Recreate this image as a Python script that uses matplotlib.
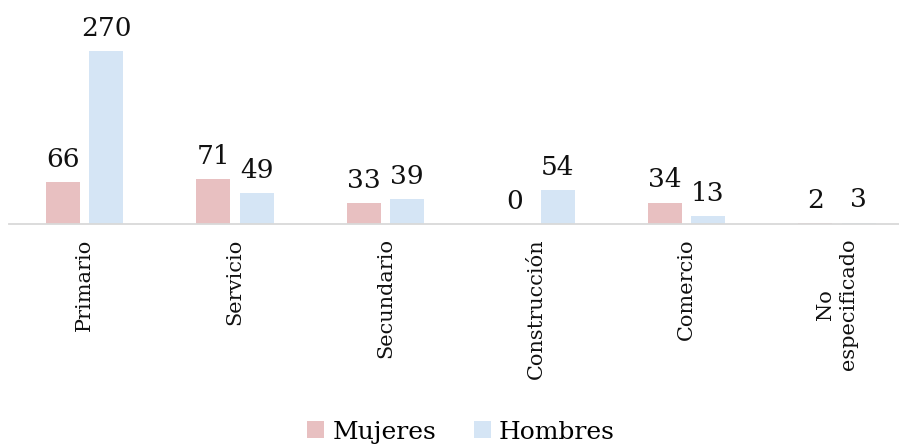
import numpy as np
import matplotlib
matplotlib.use('Agg')
import matplotlib.pyplot as plt

categorias = ['Primario', 'Servicio', 'Secundario', 'Construcción', 'Comercio', 'No\nespecificado']
mujeres = [66, 71, 33, 0, 34, 2]
hombres = [270, 49, 39, 54, 13, 3]

plt.rcParams['font.family'] = ['DejaVu Serif']

fig = plt.figure(figsize=(8.99, 4.44), dpi=100)
# plot area runs a bit past the right edge, like the original
ax = fig.add_axes([9.25/899, 219.5/444, 903/899, 192.8/444])

x = np.arange(len(categorias))
w = 0.226
off = 0.143
b1 = ax.bar(x - off, mujeres, w, color='#E8C0C1', label='Mujeres')
b2 = ax.bar(x + off, hombres, w, color='#D5E5F5', label='Hombres')

for bars, vals in ((b1, mujeres), (b2, hombres)):
    for r, v in zip(bars, vals):
        ax.annotate(str(v), (r.get_x() + r.get_width()/2, r.get_height()),
                    xytext=(0, 11), textcoords='offset points',
                    ha='center', va='baseline', fontsize=19, color='#111111',
                    annotation_clip=False)

ax.set_xlim(-0.5, len(categorias) - 0.5)
ax.set_ylim(0, 300)
ax.set_yticks([])
ax.set_xticks(x)
ax.set_xticklabels(categorias, rotation=90, fontsize=15, color='#111111',
                   va='top', ha='center', multialignment='center',
                   linespacing=1.3)
ax.tick_params(axis='x', length=0, pad=10)
for s in ['top', 'right', 'left']:
    ax.spines[s].set_visible(False)
ax.spines['bottom'].set_color('#D9D9D9')
ax.spines['bottom'].set_linewidth(1.3)

fig.legend(loc='center', bbox_to_anchor=(461/899, 1 - 432/444), ncol=2,
           frameon=False, fontsize=18, handlelength=0.68, handleheight=0.68,
           handletextpad=0.32, columnspacing=1.5, borderpad=0)

fig.savefig('out.png', dpi=100)
